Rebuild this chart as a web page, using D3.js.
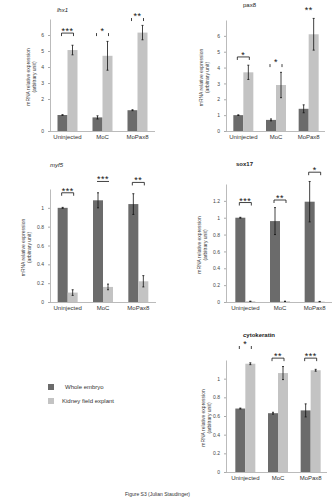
<!DOCTYPE html>
<html>
<head>
<meta charset="utf-8">
<script src="https://cdn.jsdelivr.net/npm/d3@7"></script>
<style>
  body { margin: 0; background: #fff; }
  svg { display: block; font-family: Arial, "Liberation Sans", sans-serif; }
</style>
</head>
<body>
<div id="figure"></div>
<script>
const categories = ["Uninjected", "MoC", "MoPax8"];
const seriesNames = ["Whole embryo", "Kidney field explant"];
const genes = ["lhx1", "pax8", "myf5", "sox17", "cytokeratin"];

// mean and error per gene (rows) and category (columns)
const embryoMean = [
  [1.0, 0.85, 1.3],
  [1.0, 0.7, 1.4],
  [1.0, 1.08, 1.04],
  [1.0, 0.96, 1.19],
  [0.68, 0.63, 0.66],
];
const embryoErr = [
  [0.02, 0.1, 0.03],
  [0.02, 0.06, 0.25],
  [0.005, 0.08, 0.11],
  [0.005, 0.16, 0.24],
  [0.005, 0.01, 0.07],
];
const explantMean = [
  [5.06, 4.7, 6.15],
  [3.7, 2.9, 6.1],
  [0.1, 0.16, 0.22],
  [0.008, 0.008, 0.005],
  [1.16, 1.06, 1.09],
];
const explantErr = [
  [0.3, 0.9, 0.45],
  [0.45, 0.8, 1.0],
  [0.03, 0.03, 0.06],
  [0.002, 0.002, 0.002],
  [0.01, 0.07, 0.01],
];

const yMax = [7, 7, 1.2, 1.4, 1.2];
const yTicks = [
  [0, 2, 3, 4, 5, 6],
  [0, 1, 2, 3, 4, 5, 6],
  [0, 0.2, 0.4, 0.6, 0.8, 1],
  [0, 0.2, 0.4, 0.6, 0.8, 1, 1.2],
  [0, 0.2, 0.4, 0.6, 0.8, 1],
];

// t-test stars, the level (axis units) they sit at and how the bracket is drawn
const stars = [
  ["***", "*", "**"],
  ["*", "*", "**"],
  ["***", "***", "**"],
  ["***", "**", "*"],
  ["*", "**", "***"],
];
const starLevel = [
  [6.12, 6.12, 7.06],
  [4.67, 4.22, 7.53],
  [1.16, 1.28, 1.27],
  [1.18, 1.21, 1.54],
  [1.35, 1.22, 1.22],
];
const bracketKind = [
  ["full", "ends", "ends"],
  ["full", "ends", "none"],
  ["full", "line", "full"],
  ["full", "full", "full"],
  ["ends", "full", "full"],
];

class VisExpressionFigure {
  constructor(el) {
    this.el = el;
    this.setup();
    this.scaffold();
    this.render();
  }

  setup() {
    this.width = 336;
    this.height = 500;
    this.barWidth = 10;
    this.colors = ["#6b6b6b", "#c3c3c3"];

    this.layout = [
      { x: 50, inset: 0, w: 105, bottom: 131, top: 19, titleX: 57, titleY: 12, labelX: 30, style: "italic" },
      { x: 226, inset: 1, w: 98, bottom: 131, top: 20, titleX: 243, titleY: 7, labelX: 203, style: "normal" },
      { x: 50, inset: 0, w: 106, bottom: 302, top: 189, titleX: 50, titleY: 167, labelX: 25, style: "italic" },
      { x: 226, inset: 2, w: 104, bottom: 302, top: 184, titleX: 236, titleY: 166, labelX: 201, style: "bold" },
      { x: 226, inset: 3, w: 98, bottom: 472, top: 360, titleX: 243, titleY: 337, labelX: 205, style: "bold" },
    ];
  }

  scaffold() {
    this.svg = d3
      .select(this.el)
      .append("svg")
      .attr("width", this.width)
      .attr("height", this.height);
  }

  render() {
    genes.forEach((gene, i) => this.renderPanel(gene, i));
    this.renderLegend();

    this.svg
      .append("text")
      .attr("x", 125)
      .attr("y", 496)
      .attr("font-size", 5)
      .attr("fill", "#333")
      .text("Figure S3 (Julian Staudinger)");
  }

  renderPanel(gene, i) {
    const p = this.layout[i];
    const bw = this.barWidth;
    const g = this.svg.append("g").attr("class", `panel panel-${gene}`);

    const x = d3
      .scalePoint()
      .domain(categories)
      .range([p.x + p.inset, p.x + p.inset + p.w])
      .padding(0.5);
    const y = d3.scaleLinear().domain([0, yMax[i]]).range([p.bottom, p.top]);

    g.append("text")
      .attr("x", p.titleX)
      .attr("y", p.titleY)
      .attr("font-size", 6)
      .attr("font-style", p.style === "italic" ? "italic" : null)
      .attr("font-weight", p.style === "bold" ? "bold" : null)
      .attr("fill", "#222")
      .text(gene);

    const yAxis = g
      .append("g")
      .attr("transform", `translate(${p.x},0)`)
      .call(
        d3
          .axisLeft(y)
          .tickValues(yTicks[i])
          .tickSize(2)
          .tickSizeOuter(0)
          .tickPadding(4)
          .tickFormat(d3.format("~g"))
      );
    yAxis.select(".domain").attr("stroke", "#aaa").attr("stroke-width", 0.8);
    yAxis.selectAll(".tick line").attr("stroke", "#aaa");
    yAxis.selectAll(".tick text").attr("font-size", 5).attr("fill", "#444").attr("font-family", null);

    g.append("line")
      .attr("x1", p.x)
      .attr("x2", p.x + p.inset + p.w)
      .attr("y1", p.bottom + 0.5)
      .attr("y2", p.bottom + 0.5)
      .attr("stroke", "#aaa")
      .attr("stroke-width", 0.8);

    g.selectAll(".category-label")
      .data(categories)
      .join("text")
      .attr("class", "category-label")
      .attr("x", (d) => x(d))
      .attr("y", p.bottom + 8)
      .attr("text-anchor", "middle")
      .attr("font-size", 6)
      .attr("fill", "#333")
      .text((d) => d);

    g.append("text")
      .attr("transform", `translate(${p.labelX},${(p.top + p.bottom) / 2 + 2})rotate(-90)`)
      .attr("text-anchor", "middle")
      .attr("font-size", 5)
      .attr("fill", "#444")
      .call((t) => {
        t.append("tspan").attr("x", 0).attr("dy", 0).text("mRNA relative expression");
        t.append("tspan").attr("x", 0).attr("dy", 5.5).text("(arbitrary unit)");
      });

    const bars = [embryoMean[i], explantMean[i]].flatMap((values, s) =>
      values.map((v, j) => ({
        category: categories[j],
        series: s,
        value: v,
        err: s === 0 ? embryoErr[i][j] : explantErr[i][j],
      }))
    );

    g.selectAll(".bar")
      .data(bars)
      .join("rect")
      .attr("class", "bar")
      .attr("x", (d) => x(d.category) - bw + d.series * bw)
      .attr("y", (d) => y(d.value))
      .attr("width", bw)
      .attr("height", (d) => y(0) - y(d.value))
      .attr("fill", (d) => this.colors[d.series]);

    const err = g
      .selectAll(".err")
      .data(bars)
      .join("g")
      .attr("class", "err")
      .attr("transform", (d) => `translate(${x(d.category) - bw / 2 + d.series * bw},0)`)
      .attr("stroke", "#111")
      .attr("stroke-width", 0.8);
    err
      .append("line")
      .attr("y1", (d) => y(d.value + d.err))
      .attr("y2", (d) => y(Math.max(0, d.value - d.err)));
    err
      .append("line")
      .attr("x1", -1)
      .attr("x2", 1)
      .attr("y1", (d) => y(d.value + d.err))
      .attr("y2", (d) => y(d.value + d.err));
    err
      .append("line")
      .attr("x1", -1)
      .attr("x2", 1)
      .attr("y1", (d) => y(Math.max(0, d.value - d.err)))
      .attr("y2", (d) => y(Math.max(0, d.value - d.err)));

    const sig = categories.map((c, j) => ({
      cx: x(c),
      by: y(starLevel[i][j]),
      kind: bracketKind[i][j],
      label: stars[i][j],
    }));

    g.selectAll(".bracket")
      .data(sig.filter((d) => d.kind !== "none"))
      .join("path")
      .attr("class", "bracket")
      .attr("fill", "none")
      .attr("stroke", "#111")
      .attr("stroke-width", 0.8)
      .attr("d", (d) => {
        const l = d.cx - 6;
        const r = d.cx + 6;
        if (d.kind === "full") return `M${l},${d.by + 3}V${d.by}H${r}V${d.by + 3}`;
        if (d.kind === "line") return `M${l},${d.by}H${r}`;
        return `M${l},${d.by}v3M${r},${d.by}v3`;
      });

    g.selectAll(".stars")
      .data(sig)
      .join("text")
      .attr("class", "stars")
      .attr("x", (d) => d.cx)
      .attr("y", (d) => d.by + 1)
      .attr("text-anchor", "middle")
      .attr("font-size", 9)
      .attr("letter-spacing", 0.5)
      .attr("fill", "#111")
      .text((d) => d.label);
  }

  renderLegend() {
    const legend = this.svg
      .append("g")
      .attr("class", "legend")
      .selectAll("g")
      .data(seriesNames)
      .join("g")
      .attr("transform", (d, i) => `translate(48,${384 + i * 14})`);

    legend
      .append("rect")
      .attr("width", 6)
      .attr("height", 6)
      .attr("fill", (d, i) => this.colors[i]);

    legend
      .append("text")
      .attr("x", (d, i) => (i === 0 ? 17 : 14))
      .attr("y", 5)
      .attr("font-size", 6)
      .attr("fill", "#333")
      .text((d) => d);
  }
}

new VisExpressionFigure(document.getElementById("figure"));
</script>
</body>
</html>
